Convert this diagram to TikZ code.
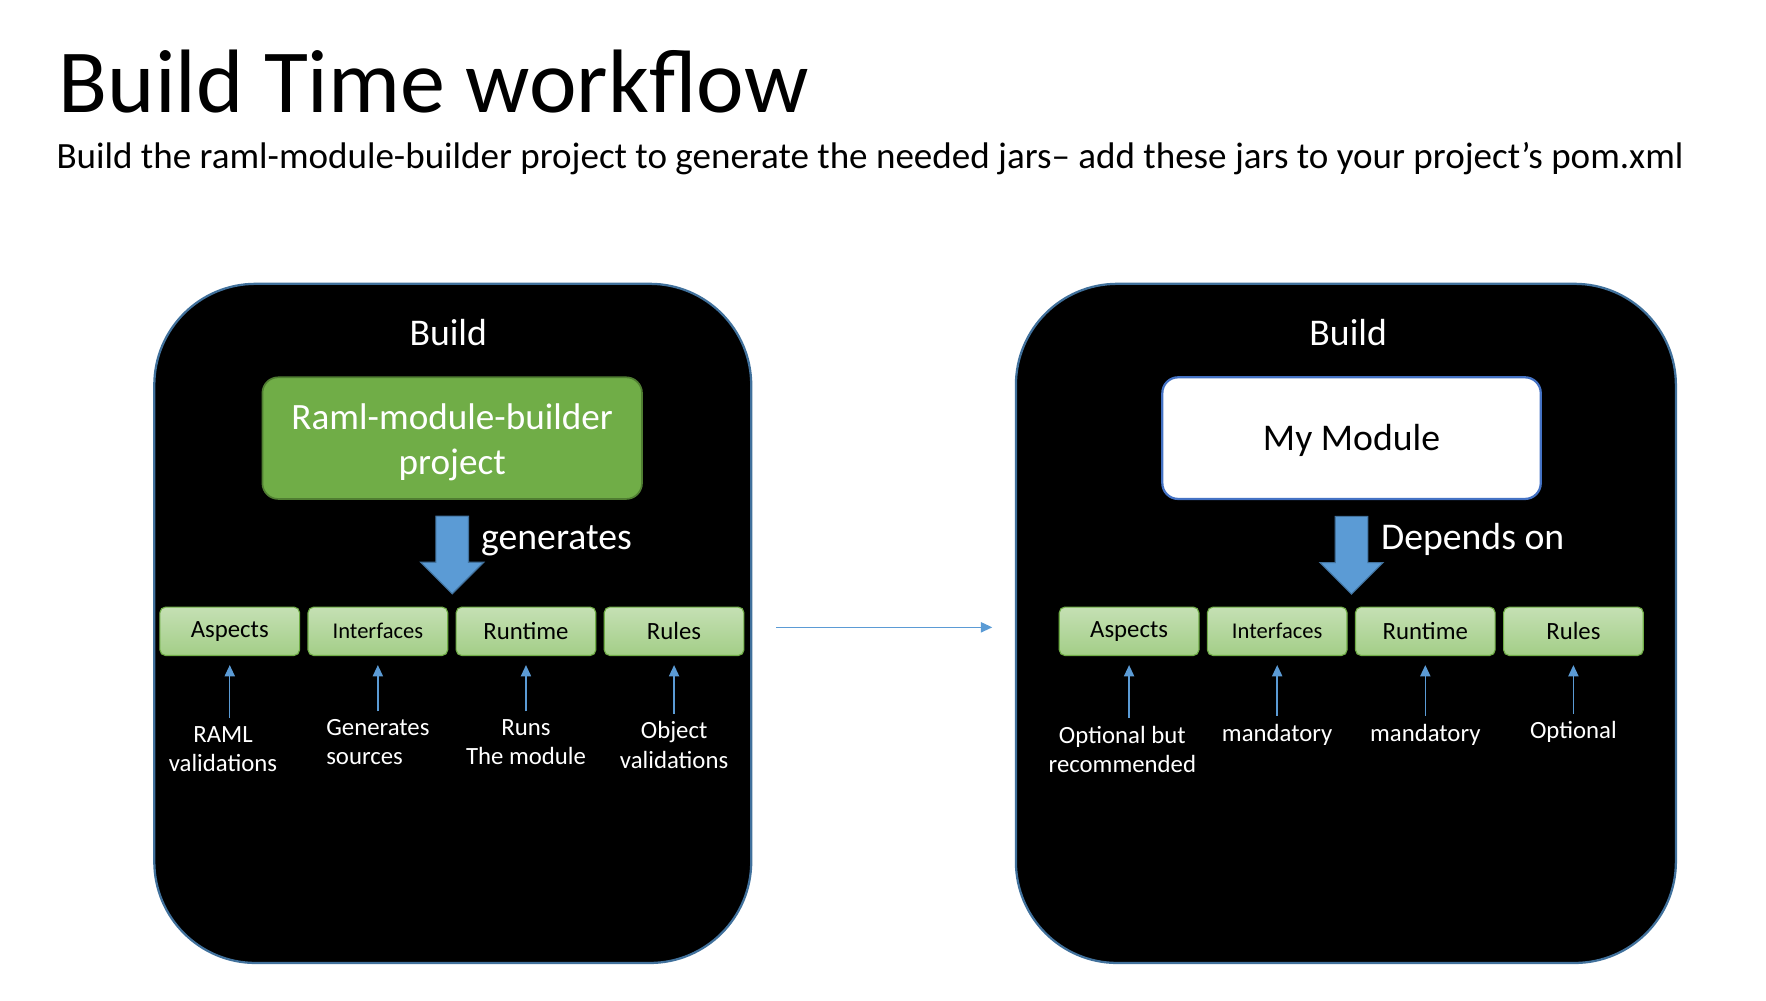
\documentclass[tikz,border=0pt]{standalone}
\usepackage{fontspec}
\setmainfont{Carlito}
\usetikzlibrary{shapes,arrows.meta,positioning}
\definecolor{boxline}{HTML}{41719C}
\definecolor{arrowblue}{HTML}{5B9BD5}
\definecolor{projgreen}{HTML}{70AD47}
\definecolor{projline}{HTML}{507E32}
\definecolor{partlight}{HTML}{C5E0B4}
\definecolor{partdark}{HTML}{A3CE87}
\definecolor{modline}{HTML}{4472C4}
\tikzstyle{buildbox} = [rectangle, draw=boxline, line width=2pt, fill=black, rounded corners=90pt]
\tikzstyle{project} = [rectangle, draw=projline, line width=1.5pt, fill=projgreen,
  rounded corners=14pt, minimum width=337pt, minimum height=108pt, text=white,
  align=center, font=\fontsize{33}{40}\selectfont]
\tikzstyle{module} = [rectangle, draw=modline, line width=2pt, fill=white, text height=29pt, text depth=7pt,
  rounded corners=14pt, minimum width=336pt, minimum height=108pt, font=\fontsize{33.5}{40}\selectfont]
\tikzstyle{part} = [rectangle, draw=projgreen, line width=1pt, top color=partlight, bottom color=partdark,
  rounded corners=5pt, minimum width=124pt, minimum height=43pt, inner sep=0, font=\fontsize{22}{26}\selectfont]
\tikzstyle{note} = [inner sep=0, text=white, align=center, font=\fontsize{22}{26}\selectfont]
\tikzstyle{link} = [draw=arrowblue, line width=1.3pt, -{Triangle[width=9pt,length=10pt]}]
\tikzstyle{bigarrow} = [single arrow, draw=boxline, fill=arrowblue, line width=1pt, inner sep=0,
  minimum height=69pt, single arrow head extend=13.5pt, rotate=-90, anchor=tail]
\tikzstyle{heading} = [text=white, inner sep=0, font=\fontsize{33.5}{38}\selectfont]
\begin{document}
\begin{tikzpicture}[x=1pt, y=-1pt, node distance=58pt]
    \useasboundingbox (0,0) rectangle (1568,888);
    \node [anchor=base west, inner sep=0, font=\fontsize{80}{90}\selectfont] (title) at (52,100) {Build Time workflow};
    \node [anchor=base west, inner sep=0, font=\fontsize{32.9}{36}\selectfont] (subtitle) at (50,150)
      {Build the raml-module-builder project to generate the needed jars– add these jars to your project’s pom.xml};

    % left side
    \node [buildbox, minimum width=530pt, minimum height=603pt] (lbuild) at (402,553.5) {};
    \node [heading, anchor=base] (lhead) at (398,307) {Build};
    \node [project] (raml) at (401.5,389) {\rule{0pt}{31pt}Raml-module-builder\\project};
    \node [bigarrow] (gen) at ([yshift=-14pt]raml.south) {\rule{0pt}{28pt}};
    \node [heading, anchor=base west] (genlbl) at (427,488) {generates};

    \node [part] (asp1) at (204,560.5) {Aspects};
    \node [part, right=6.5pt of asp1, font=\fontsize{20}{24}\selectfont] (int1) {Interfaces};
    \node [part, right=6.5pt of int1] (run1) {Runtime};
    \node [part, right=6.5pt of run1] (rul1) {Rules};

    \node [note, below=62pt of asp1, xshift=-6pt] (n1) {RAML\\validations};
    \node [note, below=56pt of int1, align=left] (n2) {Generates\\sources};
    \node [note, below=56pt of run1] (n3) {Runs\\The module};
    \node [note, below=58pt of rul1] (n4) {Object\\validations};

    % right side
    \node [buildbox, minimum width=586pt, minimum height=603pt] (rbuild) at (1195,553.5) {};
    \node [heading, anchor=base] (rhead) at (1197,307) {Build};
    \node [module] (mymod) at (1200,389) {My Module};
    \node [bigarrow] (dep) at ([yshift=-14pt]mymod.south) {\rule{0pt}{28pt}};
    \node [heading, anchor=base west] (deplbl) at (1226,488) {Depends on};

    \node [part] (asp2) at (1002.5,560.5) {Aspects};
    \node [part, right=6.5pt of asp2, font=\fontsize{20}{24}\selectfont] (int2) {Interfaces};
    \node [part, right=6.5pt of int2] (run2) {Runtime};
    \node [part, right=6.5pt of run2] (rul2) {Rules};

    \node [note, below=62pt of asp2, xshift=-6pt] (m1) {Optional but\\recommended};
    \node [note, below=60pt of int2] (m2) {mandatory};
    \node [note, below=60pt of run2] (m3) {mandatory};
    \node [note, below=58pt of rul2] (m4) {Optional};

    \foreach \a/\b in {n1/asp1, n2/int1, n3/run1, n4/rul1, m1/asp2, m2/int2, m3/run2, m4/rul2}
      \draw [link, shorten <=7pt, shorten >=8pt] (\a.north -| \b.south) -- (\b.south);

    \draw [link, shorten <=21pt, shorten >=20pt] ([yshift=-3.5pt]lbuild.east) -- ([yshift=-3.5pt]rbuild.west);
\end{tikzpicture}
\end{document}
